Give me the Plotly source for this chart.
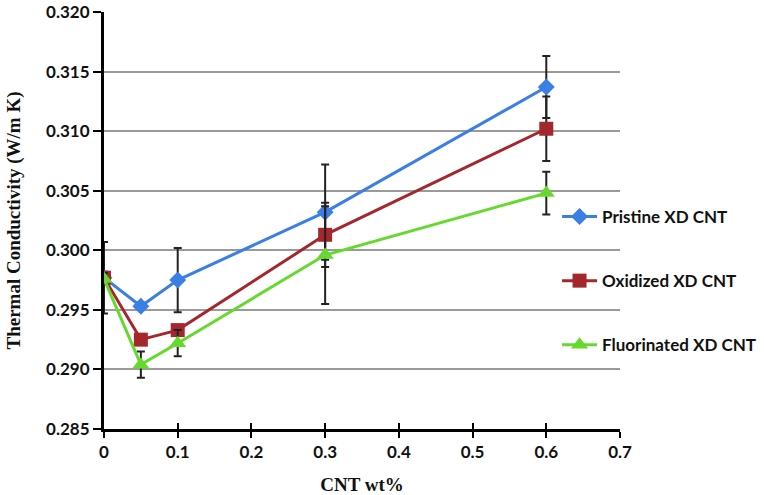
import plotly.graph_objects as go

x_wt = [0, 0.05, 0.1, 0.3, 0.6]

pristine = [0.2977, 0.2953, 0.2975, 0.3032, 0.3137]
pristine_err = [0.0030, 0.0003, 0.0027, 0.0040, 0.0026]

oxidized = [0.2977, 0.2925, 0.2933, 0.3013, 0.3102]
oxidized_err = [0.0005, 0.0004, 0.0004, 0.0027, 0.0027]

fluorinated = [0.2976, 0.2904, 0.2922, 0.2996, 0.3048]
fluorinated_err = [0.0005, 0.0011, 0.0011, 0.0041, 0.0018]

series_names = ["Pristine XD CNT", "Oxidized XD CNT", "Fluorinated XD CNT"]
x_ticks = [0, 0.1, 0.2, 0.3, 0.4, 0.5, 0.6, 0.7]
x_tick_text = ["0", "0.1", "0.2", "0.3", "0.4", "0.5", "0.6", "0.7"]
y_ticks = [0.285, 0.290, 0.295, 0.300, 0.305, 0.310, 0.315, 0.320]
y_tick_text = ["0.285", "0.290", "0.295", "0.300", "0.305", "0.310", "0.315", "0.320"]

colors = ["#3a7ee6", "#a3272d", "#66d92e"]
symbols = ["diamond", "square", "triangle-up"]
sizes = [13, 14, 15]
values = [pristine, oxidized, fluorinated]
errors = [pristine_err, oxidized_err, fluorinated_err]

fig = go.Figure()
for i in range(3):
    fig.add_trace(go.Scatter(
        x=x_wt, y=values[i], name=series_names[i], mode="lines+markers",
        legendgroup=f"g{i}",
        line=dict(color=colors[i], width=3),
        marker=dict(symbol=symbols[i], size=sizes[i], color=colors[i]),
        error_y=dict(type="data", array=errors[i], visible=True,
                     color="#222222", thickness=2, width=4),
    ))

# invisible trace to carry the crossing tick axis
fig.add_trace(go.Scatter(x=[0], y=[0.285], xaxis="x2", mode="markers",
                         marker=dict(opacity=0), showlegend=False, hoverinfo="skip"))

tick_font = dict(family="Lato", size=17, weight="bold", color="#111111")
title_font = dict(family="Liberation Serif", size=19, weight="bold", color="#111111")

fig.update_layout(
    width=764, height=495,
    margin=dict(l=104, r=144, t=12, b=66, autoexpand=False),
    paper_bgcolor="white", plot_bgcolor="white",
    font=dict(family="Lato", color="#111111"),
    legend=dict(x=0.878, y=0.5516, xanchor="left", yanchor="top",
                font=dict(family="Lato", size=17, color="#111111", weight="bold"),
                tracegroupgap=39, bgcolor="rgba(0,0,0,0)", itemwidth=35),
    showlegend=True,
    xaxis=dict(range=[0, 0.7], tickvals=x_ticks, ticktext=x_tick_text, automargin=False,
               showgrid=False, zeroline=False, showline=True, linecolor="black",
               linewidth=3, ticks="outside", ticklen=6, tickwidth=2, tickcolor="black",
               tickfont=tick_font,
               title=dict(text="CNT wt%", standoff=21, font=title_font)),
    xaxis2=dict(range=[0, 0.7], tickvals=x_ticks, overlaying="x", anchor="y", side="bottom",
                showgrid=False, zeroline=False, showline=False, ticks="inside", ticklen=6,
                tickwidth=2, tickcolor="black", showticklabels=False, automargin=False),
    yaxis=dict(range=[0.285, 0.320], tickvals=y_ticks, ticktext=y_tick_text, automargin=False,
               showgrid=True, gridcolor="#9a9a9a", gridwidth=1.5, zeroline=False,
               showline=True, linecolor="black", linewidth=3,
               ticks="outside", ticklen=8, tickwidth=2, tickcolor="black",
               tickfont=tick_font,
               title=dict(text="Thermal Conductivity (W/m K)", standoff=21, font=title_font)),
)

# remove the browser's default 8px body margin so the figure fills the window exactly
fig.write_html("out.html", config={"displayModeBar": False},
               post_script="document.body.style.margin='0';")
